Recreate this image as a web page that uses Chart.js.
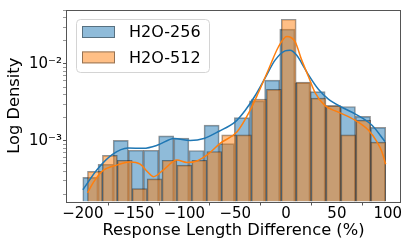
<!DOCTYPE html>
<html>
<head>
<meta charset="utf-8">
<script src="https://cdn.jsdelivr.net/npm/chart.js@4.4.1/dist/chart.umd.min.js"></script>
<style>
  html, body { margin: 0; padding: 0; background: #fff; }
</style>
</head>
<body>
<canvas id="chart" width="411" height="247"></canvas>
<script>
// histogram bins (centers) and densities
const blueCenters = [-192.6, -177.6, -162.7, -147.8, -132.9, -118.0, -103.1, -88.2, -73.3, -58.4,
                     -43.5, -28.6, -13.7, 1.2, 16.1, 31.0, 45.9, 60.8, 75.7, 90.6];
const blueDensity = [3.34e-4, 4.95e-4, 1.01e-3, 7.53e-4, 7.53e-4, 1.16e-3, 1.08e-3, 7.46e-4, 1.60e-3, 9.16e-4,
                     2.00e-3, 3.30e-3, 6.15e-3, 2.84e-2, 5.68e-3, 4.36e-3, 2.87e-3, 2.79e-3, 2.08e-3, 1.49e-3];

const orangeCenters = [-188.1, -173.4, -158.7, -144.1, -129.4, -114.7, -100.1, -85.4, -70.7, -56.1,
                       -41.4, -26.7, -12.0, 2.6, 17.3, 32.0, 46.6, 61.3, 76.0, 90.7];
const orangeDensity = [3.99e-4, 6.44e-4, 5.57e-4, 2.38e-4, 3.19e-4, 5.57e-4, 4.81e-4, 5.57e-4, 7.24e-4, 1.19e-3,
                       1.19e-3, 3.48e-3, 4.67e-3, 3.81e-2, 5.80e-3, 3.59e-3, 2.87e-3, 1.19e-3, 1.85e-3, 9.6e-4];

// KDE curves
const blueKdeX = [-200, -185.5, -170.8, -155.7, -140.3, -125.6, -110.4, -94.4, -80.9, -65.9, -50.1, -40.3,
                  -30.5, -20.6, -10.8, -1.0, 3.9, 10.5, 15.4, 21.9, 31.8, 41.6, 54.8, 67.8, 84.3, 97.3];
const blueKdeY = [2.30e-4, 4.28e-4, 6.64e-4, 8.05e-4, 7.98e-4, 8.85e-4, 1.07e-3, 1.01e-3, 1.07e-3, 1.33e-3, 1.76e-3, 2.48e-3,
                  3.85e-3, 6.58e-3, 1.12e-2, 1.48e-2, 1.51e-2, 1.30e-2, 1.02e-2, 7.25e-3, 4.67e-3, 3.48e-3, 2.73e-3, 2.24e-3, 1.60e-3, 9.8e-4];

const orangeKdeX = [-195.4, -189.5, -180.6, -165.9, -153.4, -143.6, -136.4, -130.5, -120.6, -107.5, -97.6, -87.8, -76.7,
                    -64.9, -48.2, -35.4, -27.2, -17.4, -7.6, 0.7, 8.8, 15.4, 21.9, 28.5, 38.3, 51.4, 67.8, 80.9, 89.2, 94.1, 98.0];
const orangeKdeY = [2.10e-4, 2.89e-4, 4.06e-4, 4.85e-4, 5.30e-4, 4.95e-4, 3.95e-4, 3.41e-4, 4.19e-4, 5.61e-4, 5.22e-4, 5.46e-4, 6.70e-4,
                    9.25e-4, 1.31e-3, 2.48e-3, 4.24e-3, 8.39e-3, 1.66e-2, 2.27e-2, 1.95e-2, 1.12e-2, 6.92e-3, 4.24e-3, 2.87e-3, 2.36e-3, 1.85e-3, 1.38e-3, 9.8e-4, 7.31e-4, 4.95e-4];

const xTicks = [-200, -150, -100, -50, 0, 50, 100];
const yMajorTicks = [1e-3, 1e-2];
const yMinorTicks = [2e-4, 3e-4, 4e-4, 5e-4, 6e-4, 7e-4, 8e-4, 9e-4,
                     2e-3, 3e-3, 4e-3, 5e-3, 6e-3, 7e-3, 8e-3, 9e-3,
                     2e-2, 3e-2, 4e-2, 5e-2];

const BLUE = '#1f77b4';
const ORANGE = '#ff7f0e';
const AXIS = '#555';
const FONT = 'DejaVu Sans';

const sup = { '-': '\u207b', '0': '\u2070', '1': '\u00b9', '2': '\u00b2', '3': '\u00b3', '4': '\u2074',
              '5': '\u2075', '6': '\u2076', '7': '\u2077', '8': '\u2078', '9': '\u2079' };
const logLabel = (v) => '10' + String(Math.round(Math.log10(v))).split('').map(c => sup[c]).join('');

const toPoints = (xs, ys) => xs.map((x, i) => ({ x: x, y: ys[i] }));

// axes frame (all four spines)
const framePlugin = {
    id: 'frame',
    afterDatasetsDraw(chart) {
        const { ctx, chartArea: a } = chart;
        ctx.save();
        ctx.strokeStyle = AXIS;
        ctx.lineWidth = 1;
        ctx.strokeRect(Math.round(a.left) - 0.5, Math.round(a.top) + 0.5,
                       Math.round(a.right - a.left) + 1, Math.round(a.bottom - a.top));
        ctx.restore();
    }
};

// matplotlib-like legend box in the upper left corner
const legendPlugin = {
    id: 'boxLegend',
    afterDraw(chart) {
        const { ctx, chartArea: a } = chart;
        const items = chart.data.datasets.filter(d => d.type === 'bar');
        const x0 = a.left + 9, y0 = a.top + 9, w = 133, h = 53, r = 4;
        ctx.save();
        ctx.beginPath();
        ctx.roundRect(x0 + 0.5, y0 + 0.5, w, h, r);
        ctx.fillStyle = 'rgba(255,255,255,0.8)';
        ctx.fill();
        ctx.strokeStyle = '#d4d4d4';
        ctx.lineWidth = 1;
        ctx.stroke();
        ctx.font = '16px "' + FONT + '"';
        ctx.textBaseline = 'middle';
        items.forEach((d, i) => {
            const cy = y0 + 13 + i * 25.4;
            ctx.fillStyle = d.backgroundColor;
            ctx.fillRect(x0 + 6, cy - 6, 33, 12);
            ctx.strokeStyle = d.borderColor;
            ctx.strokeRect(x0 + 6.5, cy - 5.5, 32, 11);
            ctx.fillStyle = '#000';
            ctx.fillText(d.label, x0 + 53, cy + 1);
        });
        ctx.restore();
    }
};

new Chart(document.getElementById('chart'), {
    data: {
        datasets: [
            {
                type: 'bar', label: 'H2O-256', data: toPoints(blueCenters, blueDensity), stack: 'hist',
                backgroundColor: 'rgba(31,119,180,0.5)', borderColor: 'rgba(20,20,20,0.45)',
                borderWidth: 1, order: 4
            },
            {
                type: 'bar', label: 'H2O-512', data: toPoints(orangeCenters, orangeDensity), stack: 'hist',
                backgroundColor: 'rgba(255,127,14,0.5)', borderColor: 'rgba(20,20,20,0.45)',
                borderWidth: 1, order: 3
            },
            {
                type: 'line', label: 'kde-256', data: toPoints(blueKdeX, blueKdeY),
                borderColor: BLUE, borderWidth: 1.5, pointRadius: 0,
                cubicInterpolationMode: 'monotone', order: 2
            },
            {
                type: 'line', label: 'kde-512', data: toPoints(orangeKdeX, orangeKdeY),
                borderColor: ORANGE, borderWidth: 1.5, pointRadius: 0,
                cubicInterpolationMode: 'monotone', order: 1
            }
        ]
    },
    options: {
        responsive: false,
        animation: false,
        devicePixelRatio: 1,
        layout: { padding: { left: 0, right: 11, top: 5, bottom: 0 } },
        datasets: {
            // same stack name -> bars overlap instead of sitting side by side; flex -> each keeps its bin width
            bar: { barThickness: 'flex', categoryPercentage: 1, barPercentage: 1 }
        },
        plugins: { legend: { display: false }, tooltip: { enabled: false } },
        scales: {
            x: {
                type: 'linear', min: -215.6, max: 112.1, offset: false,
                afterBuildTicks: (s) => { s.ticks = xTicks.map(v => ({ value: v })); },
                afterFit: (s) => { s.height = 45.5; },
                ticks: {
                    autoSkip: false, maxRotation: 0, padding: 1, color: '#000',
                    font: { family: FONT, size: 15, lineHeight: 1 },
                    callback: (v) => v < 0 ? '\u2212' + Math.abs(v) : String(v)
                },
                grid: { display: true, drawOnChartArea: false, drawTicks: true, tickLength: 4, tickColor: AXIS },
                border: { display: false },
                title: {
                    display: true, text: 'Response Length Difference (%)', color: '#000',
                    font: { family: FONT, size: 16.3, lineHeight: 1.2 }, padding: { top: 0, bottom: 6.5 }
                }
            },
            y: {
                type: 'logarithmic', min: 1.62e-4, max: 0.0503, stacked: false,
                afterBuildTicks: (s) => {
                    s.ticks = yMinorTicks.concat(yMajorTicks).sort((a, b) => a - b)
                        .map(v => ({ value: v, major: yMajorTicks.includes(v) }));
                },
                afterFit: (s) => { s.width = 67; },
                ticks: {
                    autoSkip: false, padding: 1, color: '#000',
                    font: { family: FONT, size: 15 },
                    callback: (v) => yMajorTicks.includes(v) ? logLabel(v) : ''
                },
                grid: {
                    display: true, drawOnChartArea: false, drawTicks: true, tickLength: 4,
                    tickColor: (c) => c.tick && c.tick.major ? AXIS : '#999'
                },
                border: { display: false },
                title: {
                    display: true, text: 'Log Density', color: '#000',
                    font: { family: FONT, size: 16.3, lineHeight: 1.2 }, padding: { top: 4.5, bottom: 0 }
                }
            }
        }
    },
    plugins: [framePlugin, legendPlugin]
});
</script>
</body>
</html>
